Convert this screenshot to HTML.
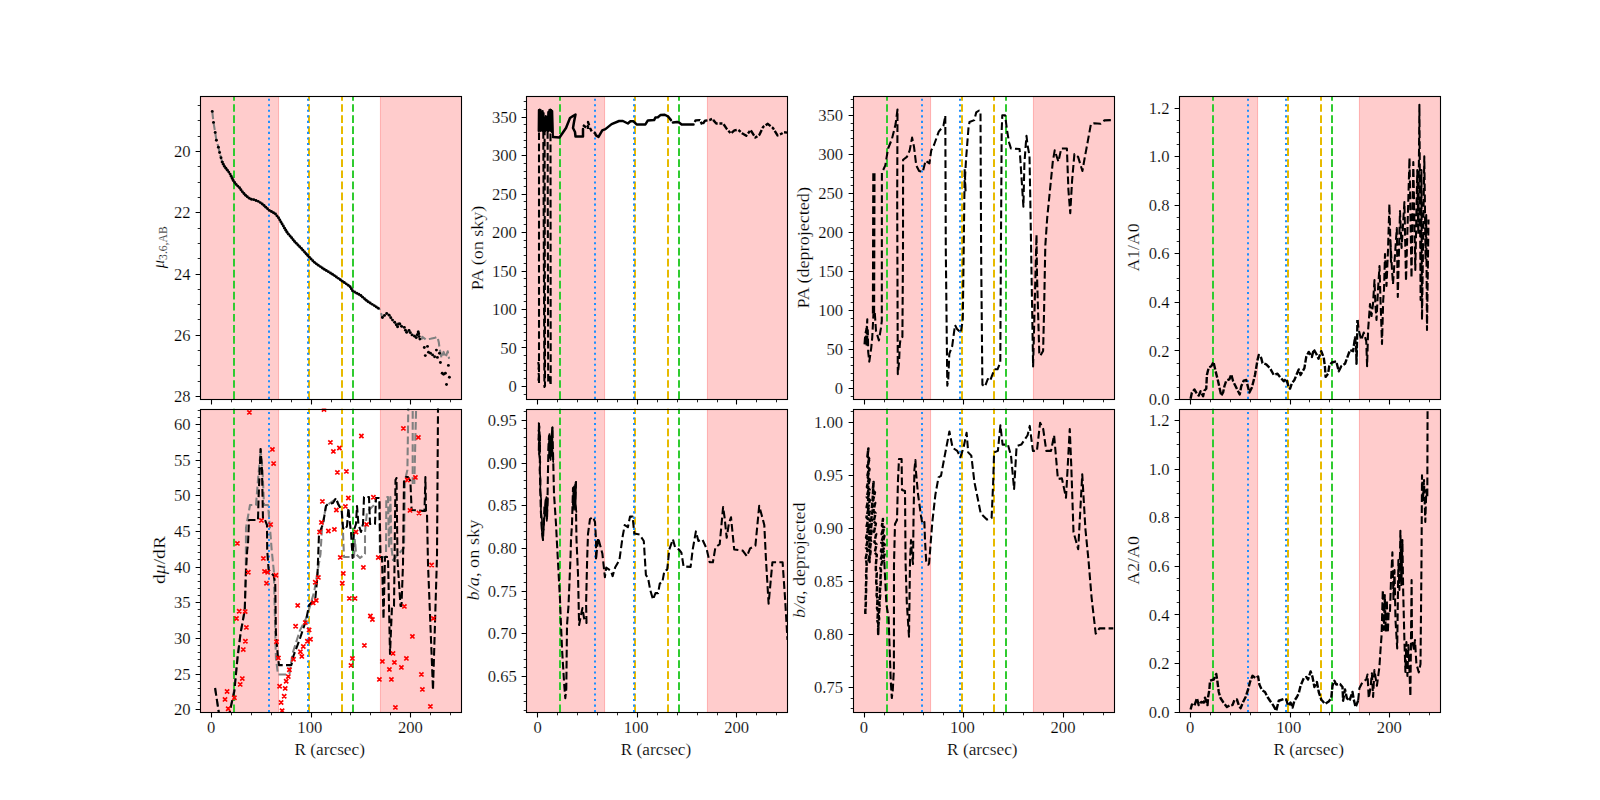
<!DOCTYPE html>
<html><head><meta charset="utf-8"><title>Radial profiles</title>
<style>html,body{margin:0;padding:0;background:#fff}svg{display:block}text{font-family:"Liberation Serif","DejaVu Serif",serif;font-size:16.6px;fill:#000;stroke:#fff;stroke-width:0.18px}</style>
</head><body>
<svg width="1600" height="800" viewBox="0 0 1600 800">
<rect width="1600" height="800" fill="#fff"/>
<defs>
<clipPath id="c00"><rect x="200" y="96" width="261.05" height="303.45"/></clipPath>
<clipPath id="c01"><rect x="200" y="408.55" width="261.05" height="303.45"/></clipPath>
<clipPath id="c10"><rect x="526.31" y="96" width="261.05" height="303.45"/></clipPath>
<clipPath id="c11"><rect x="526.31" y="408.55" width="261.05" height="303.45"/></clipPath>
<clipPath id="c20"><rect x="852.62" y="96" width="261.05" height="303.45"/></clipPath>
<clipPath id="c21"><rect x="852.62" y="408.55" width="261.05" height="303.45"/></clipPath>
<clipPath id="c30"><rect x="1178.94" y="96" width="261.05" height="303.45"/></clipPath>
<clipPath id="c31"><rect x="1178.94" y="408.55" width="261.05" height="303.45"/></clipPath>
</defs>
<rect x="200.5" y="96.5" width="261" height="303" fill="#fff"/>
<rect x="200.5" y="96.5" width="78.6" height="303" fill="#f00" fill-opacity="0.2"/>
<rect x="379.9" y="96.5" width="81.6" height="303" fill="#f00" fill-opacity="0.2"/>
<path d="M278.5,96.5 V399.5 M380.5,96.5 V399.5" stroke="#f00" stroke-opacity="0.2" stroke-width="0.7" fill="none"/>
<g clip-path="url(#c00)">
<path d="M234,398.9 V96" stroke="#30cb30" stroke-width="2.05" stroke-dasharray="7.71 3.33" fill="none"/>
<path d="M353,398.9 V96" stroke="#30cb30" stroke-width="2.05" stroke-dasharray="7.71 3.33" fill="none"/>
<path d="M309,398.9 V96" stroke="#e7ba00" stroke-width="2.05" stroke-dasharray="7.71 3.33" fill="none"/>
<path d="M342,398.9 V96" stroke="#e7ba00" stroke-width="2.05" stroke-dasharray="7.71 3.33" fill="none"/>
<path d="M269,398.9 V96" stroke="#1e90ff" stroke-width="2.05" stroke-dasharray="2.08 3.44" fill="none"/>
<path d="M308,398.9 V96" stroke="#1e90ff" stroke-width="2.05" stroke-dasharray="2.08 3.44" fill="none"/>
<path d="M212.25,111.4 L213.5,122.4 L215.2,132.5 L216.4,140.2 L218.4,147.2 L219.6,152.5 L221,157.7 L222.2,162.1 L224.5,166.5 L228,170.9 L230.6,174.9 L233.2,180.5 L236.75,185.2 L239.4,187.5 L242,191.3 L246.4,196.2 L250.75,199.2 L254.25,199.75 L258.6,201.5 L263,204.5 L269.1,210.25 L275.25,213.75 L278.75,218.1 L282.25,224.25 L287.5,233 L292.75,239.1 L294,241 L301,248 L308,255.9 L315,262.9 L323.75,269 L332.5,274.25 L341.25,280.4 L350,286.5 L352.6,290.9 L360.5,295.25 L367.5,301.4 L374.5,305.75 L379.75,309.25 L382.4,317.5 L386.5,313.4 L389.25,315.2 L392,319.6 L395.4,323 L397.5,327.1 L398.9,322.6 L401.6,326.4 L404.4,327.4 L406.4,332.6 L409.2,330.2 L411.3,334.7 L414,335.4 L416.1,338.1 L418.4,331.3 L419.5,339.2 L422.3,338.4 L422.3,336.8 L425.7,339.5 L430.5,338.8 L434,338.1 L437.4,336.8 L438.8,342.3 L439.5,347.8 L441.5,358.1 L443.6,351.9 L445.7,357.4 L447.7,351.2 L449.1,358.8" stroke="#808080" stroke-width="2.08" stroke-dasharray="7.71 3.33" fill="none" stroke-linejoin="round" />
<g fill="#000"><circle cx="212.25" cy="111.4" r="1.45"/><circle cx="213.5" cy="122.4" r="1.45"/><circle cx="215.2" cy="132.5" r="1.45"/><circle cx="216.4" cy="140.2" r="1.45"/><circle cx="218.4" cy="147.2" r="1.45"/><circle cx="219.6" cy="152.5" r="1.45"/><circle cx="221" cy="157.7" r="1.45"/><circle cx="222.2" cy="162.1" r="1.45"/><circle cx="222.2" cy="162.1" r="1.45"/><circle cx="223.31" cy="164.23" r="1.45"/><circle cx="224.42" cy="166.35" r="1.45"/><circle cx="225.89" cy="168.25" r="1.45"/><circle cx="227.39" cy="170.13" r="1.45"/><circle cx="228.77" cy="172.08" r="1.45"/><circle cx="230.08" cy="174.1" r="1.45"/><circle cx="231.21" cy="176.21" r="1.45"/><circle cx="232.22" cy="178.38" r="1.45"/><circle cx="233.24" cy="180.55" r="1.45"/><circle cx="234.69" cy="182.47" r="1.45"/><circle cx="236.13" cy="184.38" r="1.45"/><circle cx="237.79" cy="186.1" r="1.45"/><circle cx="239.55" cy="187.72" r="1.45"/><circle cx="240.91" cy="189.7" r="1.45"/><circle cx="242.31" cy="191.65" r="1.45"/><circle cx="243.91" cy="193.43" r="1.45"/><circle cx="245.52" cy="195.22" r="1.45"/><circle cx="247.29" cy="196.81" r="1.45"/><circle cx="249.26" cy="198.18" r="1.45"/><circle cx="251.34" cy="199.29" r="1.45"/><circle cx="253.71" cy="199.66" r="1.45"/><circle cx="255.97" cy="200.44" r="1.45"/><circle cx="258.19" cy="201.34" r="1.45"/><circle cx="260.22" cy="202.61" r="1.45"/><circle cx="262.2" cy="203.96" r="1.45"/><circle cx="264.05" cy="205.49" r="1.45"/><circle cx="265.79" cy="207.13" r="1.45"/><circle cx="267.54" cy="208.78" r="1.45"/><circle cx="269.32" cy="210.38" r="1.45"/><circle cx="271.41" cy="211.56" r="1.45"/><circle cx="273.49" cy="212.75" r="1.45"/><circle cx="275.49" cy="214.05" r="1.45"/><circle cx="276.99" cy="215.91" r="1.45"/><circle cx="278.5" cy="217.78" r="1.45"/><circle cx="279.74" cy="219.83" r="1.45"/><circle cx="280.92" cy="221.92" r="1.45"/><circle cx="282.11" cy="224.01" r="1.45"/><circle cx="283.34" cy="226.07" r="1.45"/><circle cx="284.58" cy="228.13" r="1.45"/><circle cx="285.81" cy="230.18" r="1.45"/><circle cx="287.04" cy="232.24" r="1.45"/><circle cx="288.49" cy="234.15" r="1.45"/><circle cx="290.05" cy="235.97" r="1.45"/><circle cx="291.62" cy="237.79" r="1.45"/><circle cx="293.12" cy="239.66" r="1.45"/><circle cx="294.56" cy="241.56" r="1.45"/><circle cx="296.26" cy="243.26" r="1.45"/><circle cx="297.95" cy="244.95" r="1.45"/><circle cx="299.65" cy="246.65" r="1.45"/><circle cx="301.33" cy="248.37" r="1.45"/><circle cx="302.92" cy="250.17" r="1.45"/><circle cx="304.51" cy="251.96" r="1.45"/><circle cx="306.1" cy="253.76" r="1.45"/><circle cx="307.69" cy="255.55" r="1.45"/><circle cx="309.37" cy="257.27" r="1.45"/><circle cx="311.07" cy="258.97" r="1.45"/><circle cx="312.76" cy="260.66" r="1.45"/><circle cx="314.46" cy="262.36" r="1.45"/><circle cx="316.34" cy="263.84" r="1.45"/><circle cx="318.31" cy="265.21" r="1.45"/><circle cx="320.28" cy="266.58" r="1.45"/><circle cx="322.25" cy="267.95" r="1.45"/><circle cx="324.24" cy="269.29" r="1.45"/><circle cx="326.3" cy="270.53" r="1.45"/><circle cx="328.36" cy="271.76" r="1.45"/><circle cx="330.41" cy="273" r="1.45"/><circle cx="332.47" cy="274.23" r="1.45"/><circle cx="334.44" cy="275.61" r="1.45"/><circle cx="336.4" cy="276.99" r="1.45"/><circle cx="338.36" cy="278.37" r="1.45"/><circle cx="340.33" cy="279.75" r="1.45"/><circle cx="342.29" cy="281.13" r="1.45"/><circle cx="344.26" cy="282.5" r="1.45"/><circle cx="346.23" cy="283.87" r="1.45"/><circle cx="348.2" cy="285.25" r="1.45"/><circle cx="350.11" cy="286.68" r="1.45"/><circle cx="351.33" cy="288.74" r="1.45"/><circle cx="352.55" cy="290.81" r="1.45"/><circle cx="354.61" cy="292.01" r="1.45"/><circle cx="356.71" cy="293.16" r="1.45"/><circle cx="358.82" cy="294.32" r="1.45"/><circle cx="360.86" cy="295.56" r="1.45"/><circle cx="362.66" cy="297.15" r="1.45"/><circle cx="364.46" cy="298.73" r="1.45"/><circle cx="366.27" cy="300.32" r="1.45"/><circle cx="368.14" cy="301.8" r="1.45"/><circle cx="370.18" cy="303.07" r="1.45"/><circle cx="372.22" cy="304.33" r="1.45"/><circle cx="374.26" cy="305.6" r="1.45"/><circle cx="376.26" cy="306.92" r="1.45"/><circle cx="378.26" cy="308.26" r="1.45"/><circle cx="382.4" cy="317.5" r="1.45"/><circle cx="384.52" cy="315.38" r="1.45"/><circle cx="386.67" cy="313.51" r="1.45"/><circle cx="389.18" cy="315.15" r="1.45"/><circle cx="390.79" cy="317.67" r="1.45"/><circle cx="392.51" cy="320.11" r="1.45"/><circle cx="394.63" cy="322.23" r="1.45"/><circle cx="396.27" cy="324.71" r="1.45"/><circle cx="397.59" cy="326.8" r="1.45"/><circle cx="398.48" cy="323.94" r="1.45"/><circle cx="399.83" cy="323.9" r="1.45"/><circle cx="401.56" cy="326.35" r="1.45"/><circle cx="404.37" cy="327.39" r="1.45"/><circle cx="405.46" cy="330.17" r="1.45"/><circle cx="406.7" cy="332.34" r="1.45"/><circle cx="408.98" cy="330.39" r="1.45"/><circle cx="410.34" cy="332.65" r="1.45"/><circle cx="412.02" cy="334.89" r="1.45"/><circle cx="414.58" cy="336.15" r="1.45"/><circle cx="416.27" cy="337.6" r="1.45"/><circle cx="417.23" cy="334.76" r="1.45"/><circle cx="418.19" cy="331.92" r="1.45"/><circle cx="418.72" cy="333.63" r="1.45"/><circle cx="419.14" cy="336.6" r="1.45"/><circle cx="419.86" cy="339.1" r="1.45"/><circle cx="424.3" cy="347.5" r="1.45"/><circle cx="427.5" cy="346.4" r="1.45"/><circle cx="425.3" cy="355.6" r="1.45"/><circle cx="428.5" cy="352.3" r="1.45"/><circle cx="430.5" cy="353.3" r="1.45"/><circle cx="432.6" cy="354.9" r="1.45"/><circle cx="434.6" cy="356.7" r="1.45"/><circle cx="437.4" cy="357.4" r="1.45"/><circle cx="436.4" cy="350.1" r="1.45"/><circle cx="439.5" cy="353.3" r="1.45"/><circle cx="440.4" cy="362.5" r="1.45"/><circle cx="448.4" cy="365.4" r="1.45"/><circle cx="442.2" cy="373.2" r="1.45"/><circle cx="443.6" cy="374.2" r="1.45"/><circle cx="445.4" cy="373.2" r="1.45"/><circle cx="449.4" cy="377.3" r="1.45"/><circle cx="446.5" cy="384.5" r="1.45"/></g>
</g>
<path d="M211.5,399.5 v4.9 M311.5,399.5 v4.9 M410.5,399.5 v4.9" stroke="#000" stroke-width="1.1" fill="none"/>
<path d="M231.5,399.5 v2.8 M251.5,399.5 v2.8 M271.5,399.5 v2.8 M291.5,399.5 v2.8 M331.5,399.5 v2.8 M350.5,399.5 v2.8 M370.5,399.5 v2.8 M390.5,399.5 v2.8 M430.5,399.5 v2.8 M450.5,399.5 v2.8" stroke="#000" stroke-width="0.85" fill="none"/>
<path d="M200.5,151.5 h-4.9 M200.5,212.5 h-4.9 M200.5,274.5 h-4.9 M200.5,335.5 h-4.9 M200.5,396.5 h-4.9" stroke="#000" stroke-width="1.1" fill="none"/>
<path d="M200.5,105.5 h-2.8 M200.5,120.5 h-2.8 M200.5,136.5 h-2.8 M200.5,151.5 h-2.8 M200.5,166.5 h-2.8 M200.5,182.5 h-2.8 M200.5,197.5 h-2.8 M200.5,212.5 h-2.8 M200.5,228.5 h-2.8 M200.5,243.5 h-2.8 M200.5,258.5 h-2.8 M200.5,274.5 h-2.8 M200.5,289.5 h-2.8 M200.5,304.5 h-2.8 M200.5,319.5 h-2.8 M200.5,335.5 h-2.8 M200.5,350.5 h-2.8 M200.5,365.5 h-2.8 M200.5,381.5 h-2.8 M200.5,396.5 h-2.8" stroke="#000" stroke-width="0.85" fill="none"/>
<rect x="200.5" y="96.5" width="261" height="303" fill="none" stroke="#000" stroke-width="1.1"/>
<text x="190.5" y="157" text-anchor="end">20</text>
<text x="190.5" y="218.3" text-anchor="end">22</text>
<text x="190.5" y="279.6" text-anchor="end">24</text>
<text x="190.5" y="340.9" text-anchor="end">26</text>
<text x="190.5" y="402.2" text-anchor="end">28</text>
<text x="211.25" y="420.45" text-anchor="middle">0</text>
<text x="309.8" y="420.45" text-anchor="middle">100</text>
<text x="410.35" y="420.45" text-anchor="middle">200</text>
<text transform="translate(164,247.3) rotate(-90)" text-anchor="middle"><tspan font-style="italic">μ</tspan><tspan font-size="11.6" dy="3">3.6,AB</tspan></text>
<rect x="526.5" y="96.5" width="261" height="303" fill="#fff"/>
<rect x="526.5" y="96.5" width="78.6" height="303" fill="#f00" fill-opacity="0.2"/>
<rect x="706.9" y="96.5" width="80.6" height="303" fill="#f00" fill-opacity="0.2"/>
<path d="M604.5,96.5 V399.5 M707.5,96.5 V399.5" stroke="#f00" stroke-opacity="0.2" stroke-width="0.7" fill="none"/>
<g clip-path="url(#c10)">
<path d="M560,398.9 V96" stroke="#30cb30" stroke-width="2.05" stroke-dasharray="7.71 3.33" fill="none"/>
<path d="M679,398.9 V96" stroke="#30cb30" stroke-width="2.05" stroke-dasharray="7.71 3.33" fill="none"/>
<path d="M635,398.9 V96" stroke="#e7ba00" stroke-width="2.05" stroke-dasharray="7.71 3.33" fill="none"/>
<path d="M668,398.9 V96" stroke="#e7ba00" stroke-width="2.05" stroke-dasharray="7.71 3.33" fill="none"/>
<path d="M595,398.9 V96" stroke="#1e90ff" stroke-width="2.05" stroke-dasharray="2.08 3.44" fill="none"/>
<path d="M634,398.9 V96" stroke="#1e90ff" stroke-width="2.05" stroke-dasharray="2.08 3.44" fill="none"/>
<path d="M538.2,362 L538.9,366 L538.3,371 L539,376 L538.5,380 L538.9,383.5" stroke="#000" stroke-width="2.08" stroke-dasharray="7.71 3.33" fill="none" stroke-linejoin="round" />
<path d="M539,383 L539,131" stroke="#000" stroke-width="2.08" stroke-dasharray="7.71 3.33" fill="none" stroke-linejoin="round" />
<path d="M543.3,131 L544.4,387 L545,386 L544.6,131" stroke="#000" stroke-width="2.08" stroke-dasharray="7.71 3.33" fill="none" stroke-linejoin="round" />
<path d="M547.6,131 L548.2,385" stroke="#000" stroke-width="2.08" stroke-dasharray="7.71 3.33" fill="none" stroke-linejoin="round" />
<path d="M549.4,376 L550.7,385.5 L550.5,131" stroke="#000" stroke-width="2.08" stroke-dasharray="7.71 3.33" fill="none" stroke-linejoin="round" />
<path d="M538.6,131 L538.8,110 L539.3,130 L539.7,109.5 L540.2,131 L540.7,110 L541.2,130 L541.7,112 L542.2,131 L542.7,111 L543.2,129 L543.6,113 L544,131 L544.6,118 L545.2,131 L545.8,116 L546.4,130 L547,117 L547.6,131 L548.2,112 L548.8,131 L549.3,110 L549.8,130 L550.3,109.5 L550.8,131 L551.3,110 L551.8,132 L552.3,111 L552.8,128 L553,137" stroke="#000" stroke-width="2.0" fill="none" stroke-linejoin="round" stroke-linecap="round"/>
<path d="M553,137 L559.5,137.5 L566,128 L570,118 L573,116 L575.5,114.5 L574,122 L573,128 L575,132 L575.5,136.5 L583,136.5 L583,129" stroke="#000" stroke-width="2.5" fill="none" stroke-linejoin="round" stroke-linecap="round"/>
<path d="M583,125 L588,129 L588,122 L590,128 L592,132 L595,133" stroke="#000" stroke-width="2.4" stroke-dasharray="4 2.5" fill="none" stroke-linejoin="round" />
<path d="M595,133 L596,135.4 L598.5,136.9 L602.25,130.4 L605.4,129.1 L611.6,124.1 L619.1,121 L622.9,121 L627.9,123.5 L630.4,121.3 L633.5,121.3 L636.6,124.4 L645.4,124.4 L647.9,120.4 L654.1,120.1 L655.4,117.6 L657.9,117.25 L660.4,115.1 L664.75,114.75 L667.9,116.3 L671,120.1" stroke="#000" stroke-width="2.5" fill="none" stroke-linejoin="round" stroke-linecap="round"/>
<path d="M672.9,122.6 L677.25,121.9 L679.1,122.6 L681.6,124.4 L693.5,124.4" stroke="#000" stroke-width="2.5" fill="none" stroke-linejoin="round" stroke-linecap="round"/>
<path d="M694.8,122 L695.6,120.4 L700,120.1 L702.2,124.75 L705,120.7 L709.4,120.1 L712.2,118.8 L716.25,123.5 L723.1,123.5 L726.9,129.1 L730.9,133.5 L734.4,130.4 L738.1,129.75 L742.5,133.5 L746.25,135.7 L750.6,130.1 L755.3,137.6 L759.4,134.75 L763.1,126.9 L767.8,123.8 L773.1,128.2 L777.5,135.4 L781.9,133.5 L783.75,132.25 L787.4,132.6" stroke="#000" stroke-width="2.4" stroke-dasharray="6.2 1.8 3 1.6" fill="none" stroke-linejoin="round" />
</g>
<path d="M537.5,399.5 v4.9 M637.5,399.5 v4.9 M736.5,399.5 v4.9" stroke="#000" stroke-width="1.1" fill="none"/>
<path d="M557.5,399.5 v2.8 M577.5,399.5 v2.8 M597.5,399.5 v2.8 M617.5,399.5 v2.8 M657.5,399.5 v2.8 M677.5,399.5 v2.8 M697.5,399.5 v2.8 M717.5,399.5 v2.8 M756.5,399.5 v2.8 M776.5,399.5 v2.8" stroke="#000" stroke-width="0.85" fill="none"/>
<path d="M526.5,386.5 h-4.9 M526.5,347.5 h-4.9 M526.5,309.5 h-4.9 M526.5,271.5 h-4.9 M526.5,232.5 h-4.9 M526.5,194.5 h-4.9 M526.5,155.5 h-4.9 M526.5,117.5 h-4.9" stroke="#000" stroke-width="1.1" fill="none"/>
<path d="M526.5,394.5 h-2.8 M526.5,386.5 h-2.8 M526.5,378.5 h-2.8 M526.5,370.5 h-2.8 M526.5,363.5 h-2.8 M526.5,355.5 h-2.8 M526.5,347.5 h-2.8 M526.5,340.5 h-2.8 M526.5,332.5 h-2.8 M526.5,324.5 h-2.8 M526.5,317.5 h-2.8 M526.5,309.5 h-2.8 M526.5,301.5 h-2.8 M526.5,294.5 h-2.8 M526.5,286.5 h-2.8 M526.5,278.5 h-2.8 M526.5,271.5 h-2.8 M526.5,263.5 h-2.8 M526.5,255.5 h-2.8 M526.5,247.5 h-2.8 M526.5,240.5 h-2.8 M526.5,232.5 h-2.8 M526.5,224.5 h-2.8 M526.5,217.5 h-2.8 M526.5,209.5 h-2.8 M526.5,201.5 h-2.8 M526.5,194.5 h-2.8 M526.5,186.5 h-2.8 M526.5,178.5 h-2.8 M526.5,171.5 h-2.8 M526.5,163.5 h-2.8 M526.5,155.5 h-2.8 M526.5,147.5 h-2.8 M526.5,140.5 h-2.8 M526.5,132.5 h-2.8 M526.5,124.5 h-2.8 M526.5,117.5 h-2.8 M526.5,109.5 h-2.8 M526.5,101.5 h-2.8" stroke="#000" stroke-width="0.85" fill="none"/>
<rect x="526.5" y="96.5" width="261" height="303" fill="none" stroke="#000" stroke-width="1.1"/>
<text x="516.81" y="391.95" text-anchor="end">0</text>
<text x="516.81" y="353.5" text-anchor="end">50</text>
<text x="516.81" y="315.05" text-anchor="end">100</text>
<text x="516.81" y="276.6" text-anchor="end">150</text>
<text x="516.81" y="238.15" text-anchor="end">200</text>
<text x="516.81" y="199.7" text-anchor="end">250</text>
<text x="516.81" y="161.25" text-anchor="end">300</text>
<text x="516.81" y="122.8" text-anchor="end">350</text>
<text x="537.56" y="420.45" text-anchor="middle">0</text>
<text x="636.11" y="420.45" text-anchor="middle">100</text>
<text x="736.66" y="420.45" text-anchor="middle">200</text>
<text transform="translate(483,248) rotate(-90)" text-anchor="middle" textLength="84.5" lengthAdjust="spacingAndGlyphs">PA (on sky)</text>
<rect x="853.5" y="96.5" width="261" height="303" fill="#fff"/>
<rect x="853.5" y="96.5" width="77.6" height="303" fill="#f00" fill-opacity="0.2"/>
<rect x="1032.9" y="96.5" width="81.6" height="303" fill="#f00" fill-opacity="0.2"/>
<path d="M930.5,96.5 V399.5 M1033.5,96.5 V399.5" stroke="#f00" stroke-opacity="0.2" stroke-width="0.7" fill="none"/>
<g clip-path="url(#c20)">
<path d="M887,398.9 V96" stroke="#30cb30" stroke-width="2.05" stroke-dasharray="7.71 3.33" fill="none"/>
<path d="M1006,398.9 V96" stroke="#30cb30" stroke-width="2.05" stroke-dasharray="7.71 3.33" fill="none"/>
<path d="M962,398.9 V96" stroke="#e7ba00" stroke-width="2.05" stroke-dasharray="7.71 3.33" fill="none"/>
<path d="M994,398.9 V96" stroke="#e7ba00" stroke-width="2.05" stroke-dasharray="7.71 3.33" fill="none"/>
<path d="M922,398.9 V96" stroke="#1e90ff" stroke-width="2.05" stroke-dasharray="2.08 3.44" fill="none"/>
<path d="M960,398.9 V96" stroke="#1e90ff" stroke-width="2.05" stroke-dasharray="2.08 3.44" fill="none"/>
<path d="M864.5,344.3 L865.2,335 L866.4,328.9 L866,340 L867.3,319.2 L866.6,346.2 L867.8,330 L868.2,352 L869.3,361.6 L870.2,355 L871.2,348.1 L872.2,338 L873.5,313.4" stroke="#000" stroke-width="2.08" stroke-dasharray="7.71 3.33" fill="none" stroke-linejoin="round" />
<path d="M873.5,313.4 L873.9,172.9" stroke="#000" stroke-width="3.3" stroke-dasharray="7.71 3.33" fill="none" stroke-linejoin="round" />
<path d="M874.8,313 L876,330.8 L878.9,340.4 L880.8,328.9 L881.8,321.1 L881.9,172.9 L885.3,165.4 L888.1,148.5 L891.9,139.1 L895.6,124.1 L897.5,109.5 L897.2,200 L897.8,374.1 L899.1,361.6 L899.7,346.2 L900.5,338.5 L902.4,336.9 L903,250 L903.1,159.75 L906.9,156.9 L909.7,150.4 L912.1,137.6 L914,146.6 L916.25,165.4 L919.1,171 L922.8,171.9 L925.6,160.7 L929.4,163.5 L931.25,150.4 L934.1,144.75 L938.75,131.6 L943.4,126 L945.3,115.7 L945.8,250 L947.3,385.7 L948.3,379 L949.3,353.9 L952.2,346.2 L955,325 L957,328.9 L960.8,332.7 L962.8,319.2 L963.7,250 L964.7,169.2 L965.6,192.3 L964.9,180 L966,160 L968.5,127.8 L969.5,122 L974.3,120.1 L976.2,112.4 L979.1,110.5 L980.5,113.3 L981.1,250 L982.4,384.7 L984.9,386.7 L987.8,379 L990,381 L992.6,374.1 L994.5,369.3 L997.5,369.3 L1000.3,362.6 L1000.9,250 L1001.7,130 L1002.3,115.3 L1005.1,115.3 L1007.1,130.7 L1009,142.2 L1010.9,148.4 L1019.6,149 L1020.6,163.4 L1022.1,186.6 L1023.4,206.8 L1024.4,163.4 L1025.8,144.2 L1026.5,135.8 L1027.5,144.75 L1029.5,156 L1030.3,200 L1033.1,366.4 L1036.5,234.75 L1037,275 L1039.3,353.9 L1040.2,355.8 L1043.1,351 L1044.1,309.6 L1045.3,246 L1047.2,217.9 L1050,189.75 L1052.8,161.6 L1054.7,150.4 L1058.4,161.6 L1061.25,148.5 L1066.9,148.5 L1068.4,189.75 L1070.25,213.2 L1072.1,180.4 L1074.4,154.1 L1078.1,156.9 L1082.4,171 L1084.7,157.9 L1087.5,142.9 L1090.9,124.1 L1094.1,123.2 L1100.6,123.75 L1104.4,120.4 L1113.75,120" stroke="#000" stroke-width="2.08" stroke-dasharray="7.71 3.33" fill="none" stroke-linejoin="round" />
</g>
<path d="M864.5,399.5 v4.9 M963.5,399.5 v4.9 M1063.5,399.5 v4.9" stroke="#000" stroke-width="1.1" fill="none"/>
<path d="M884.5,399.5 v2.8 M903.5,399.5 v2.8 M923.5,399.5 v2.8 M943.5,399.5 v2.8 M983.5,399.5 v2.8 M1003.5,399.5 v2.8 M1023.5,399.5 v2.8 M1043.5,399.5 v2.8 M1083.5,399.5 v2.8 M1103.5,399.5 v2.8" stroke="#000" stroke-width="0.85" fill="none"/>
<path d="M853.5,388.5 h-4.9 M853.5,349.5 h-4.9 M853.5,310.5 h-4.9 M853.5,271.5 h-4.9 M853.5,232.5 h-4.9 M853.5,193.5 h-4.9 M853.5,154.5 h-4.9 M853.5,115.5 h-4.9" stroke="#000" stroke-width="1.1" fill="none"/>
<path d="M853.5,396.5 h-2.8 M853.5,388.5 h-2.8 M853.5,380.5 h-2.8 M853.5,373.5 h-2.8 M853.5,365.5 h-2.8 M853.5,357.5 h-2.8 M853.5,349.5 h-2.8 M853.5,341.5 h-2.8 M853.5,334.5 h-2.8 M853.5,326.5 h-2.8 M853.5,318.5 h-2.8 M853.5,310.5 h-2.8 M853.5,302.5 h-2.8 M853.5,295.5 h-2.8 M853.5,287.5 h-2.8 M853.5,279.5 h-2.8 M853.5,271.5 h-2.8 M853.5,263.5 h-2.8 M853.5,255.5 h-2.8 M853.5,248.5 h-2.8 M853.5,240.5 h-2.8 M853.5,232.5 h-2.8 M853.5,224.5 h-2.8 M853.5,216.5 h-2.8 M853.5,209.5 h-2.8 M853.5,201.5 h-2.8 M853.5,193.5 h-2.8 M853.5,185.5 h-2.8 M853.5,177.5 h-2.8 M853.5,170.5 h-2.8 M853.5,162.5 h-2.8 M853.5,154.5 h-2.8 M853.5,146.5 h-2.8 M853.5,138.5 h-2.8 M853.5,130.5 h-2.8 M853.5,123.5 h-2.8 M853.5,115.5 h-2.8 M853.5,107.5 h-2.8 M853.5,99.5 h-2.8" stroke="#000" stroke-width="0.85" fill="none"/>
<rect x="853.5" y="96.5" width="261" height="303" fill="none" stroke="#000" stroke-width="1.1"/>
<text x="843.12" y="394.4" text-anchor="end">0</text>
<text x="843.12" y="355.34" text-anchor="end">50</text>
<text x="843.12" y="316.27" text-anchor="end">100</text>
<text x="843.12" y="277.21" text-anchor="end">150</text>
<text x="843.12" y="238.14" text-anchor="end">200</text>
<text x="843.12" y="199.08" text-anchor="end">250</text>
<text x="843.12" y="160.01" text-anchor="end">300</text>
<text x="843.12" y="120.95" text-anchor="end">350</text>
<text x="863.88" y="420.45" text-anchor="middle">0</text>
<text x="962.42" y="420.45" text-anchor="middle">100</text>
<text x="1062.98" y="420.45" text-anchor="middle">200</text>
<text transform="translate(808.8,247.8) rotate(-90)" text-anchor="middle" textLength="121.5" lengthAdjust="spacingAndGlyphs">PA (deprojected)</text>
<rect x="1179.5" y="96.5" width="261" height="303" fill="#fff"/>
<rect x="1179.5" y="96.5" width="78.6" height="303" fill="#f00" fill-opacity="0.2"/>
<rect x="1358.9" y="96.5" width="81.6" height="303" fill="#f00" fill-opacity="0.2"/>
<path d="M1257.5,96.5 V399.5 M1359.5,96.5 V399.5" stroke="#f00" stroke-opacity="0.2" stroke-width="0.7" fill="none"/>
<g clip-path="url(#c30)">
<path d="M1213,398.9 V96" stroke="#30cb30" stroke-width="2.05" stroke-dasharray="7.71 3.33" fill="none"/>
<path d="M1332,398.9 V96" stroke="#30cb30" stroke-width="2.05" stroke-dasharray="7.71 3.33" fill="none"/>
<path d="M1288,398.9 V96" stroke="#e7ba00" stroke-width="2.05" stroke-dasharray="7.71 3.33" fill="none"/>
<path d="M1321,398.9 V96" stroke="#e7ba00" stroke-width="2.05" stroke-dasharray="7.71 3.33" fill="none"/>
<path d="M1248,398.9 V96" stroke="#1e90ff" stroke-width="2.05" stroke-dasharray="2.08 3.44" fill="none"/>
<path d="M1286,398.9 V96" stroke="#1e90ff" stroke-width="2.05" stroke-dasharray="2.08 3.44" fill="none"/>
<path d="M1190.6,398.75 L1191.9,392.5 L1194.4,389.4 L1196.9,393.75 L1198.75,395.6 L1200.6,391.25 L1203.1,396.25 L1204.4,390.6 L1206.25,388.75 L1206.9,375 L1208.75,367.5 L1211.25,366.25 L1213.5,361.9 L1215.6,371.25 L1218.1,381.25 L1220,390 L1221.25,395.6 L1223.1,392.5 L1224.4,386.25 L1226.25,380.6 L1229.4,379.4 L1231.25,374.4 L1233.1,381.25 L1235.6,386.25 L1238.1,391.25 L1239.75,394.4 L1241.25,386.25 L1243.75,380.6 L1246.25,380 L1248.1,387.5 L1249.4,392.5 L1251.9,387.5 L1255,375 L1257.5,360 L1258.75,355 L1261.25,358.1 L1262.5,363.1 L1266.25,364.4 L1270,368.1 L1273.75,375 L1277.5,373.75 L1280,376.9 L1283.75,381.25 L1286.25,378.75 L1288.75,387.5 L1290,388.75 L1291.9,383.1 L1294.4,380 L1296.9,373.75 L1298.75,369.4 L1300.6,375 L1304.4,368.1 L1306.25,356.9 L1308.75,351.9 L1311.9,356.9 L1313.75,349.4 L1316.25,353.75 L1318.5,358.75 L1321.25,351.25 L1323.75,357.5 L1325,367.5 L1325.6,376.9 L1328.1,373.75 L1329.4,365 L1331.9,362.5 L1336.25,361.25 L1338.75,371.25 L1341.25,366.25 L1345,363.75 L1347.5,356.9 L1350,350 L1353.1,351.25 L1355,337.5 L1356.25,348.75 L1356.5,363.75 L1357.5,320" stroke="#000" stroke-width="2.4" stroke-dasharray="6.5 1.9" fill="none" stroke-linejoin="round" />
<path d="M1357.5,320 L1358.75,330 L1361.25,340 L1363.75,332.5 L1366.25,341.25 L1367.1,366.25 L1368.1,330 L1370,304 L1371.5,316 L1373,304 L1374.5,280 L1375.4,305 L1376.5,320 L1378,290 L1379.5,266 L1380.5,300 L1382,344 L1383.2,300 L1384,290 L1385,254 L1386.5,286 L1388,250 L1389.4,204 L1390.2,235 L1391,262 L1390.4,240 L1392,270 L1393,284 L1396.8,228 L1397.8,297 L1400,211 L1401.6,248 L1404.4,202 L1406,281 L1409.5,158 L1411.5,278 L1413.3,162 L1415.3,270 L1417.3,170 L1418.3,234 L1419.4,104.75 L1420.6,300 L1421.4,170 L1422,320 L1424.3,156.4 L1425.6,260 L1426.2,215 L1427,330 L1428.5,219.5" stroke="#000" stroke-width="2.08" stroke-dasharray="7.71 3.33" fill="none" stroke-linejoin="round" />
</g>
<path d="M1190.5,399.5 v4.9 M1290.5,399.5 v4.9 M1389.5,399.5 v4.9" stroke="#000" stroke-width="1.1" fill="none"/>
<path d="M1210.5,399.5 v2.8 M1230.5,399.5 v2.8 M1250.5,399.5 v2.8 M1270.5,399.5 v2.8 M1309.5,399.5 v2.8 M1329.5,399.5 v2.8 M1349.5,399.5 v2.8 M1369.5,399.5 v2.8 M1409.5,399.5 v2.8 M1429.5,399.5 v2.8" stroke="#000" stroke-width="0.85" fill="none"/>
<path d="M1179.5,399.5 h-4.9 M1179.5,350.5 h-4.9 M1179.5,302.5 h-4.9 M1179.5,253.5 h-4.9 M1179.5,205.5 h-4.9 M1179.5,156.5 h-4.9 M1179.5,108.5 h-4.9" stroke="#000" stroke-width="1.1" fill="none"/>
<path d="M1179.5,399.5 h-2.8 M1179.5,387.5 h-2.8 M1179.5,375.5 h-2.8 M1179.5,363.5 h-2.8 M1179.5,350.5 h-2.8 M1179.5,338.5 h-2.8 M1179.5,326.5 h-2.8 M1179.5,314.5 h-2.8 M1179.5,302.5 h-2.8 M1179.5,290.5 h-2.8 M1179.5,278.5 h-2.8 M1179.5,265.5 h-2.8 M1179.5,253.5 h-2.8 M1179.5,241.5 h-2.8 M1179.5,229.5 h-2.8 M1179.5,217.5 h-2.8 M1179.5,205.5 h-2.8 M1179.5,193.5 h-2.8 M1179.5,180.5 h-2.8 M1179.5,168.5 h-2.8 M1179.5,156.5 h-2.8 M1179.5,144.5 h-2.8 M1179.5,132.5 h-2.8 M1179.5,120.5 h-2.8 M1179.5,108.5 h-2.8" stroke="#000" stroke-width="0.85" fill="none"/>
<rect x="1179.5" y="96.5" width="261" height="303" fill="none" stroke="#000" stroke-width="1.1"/>
<text x="1169.44" y="405.05" text-anchor="end">0.0</text>
<text x="1169.44" y="356.5" text-anchor="end">0.2</text>
<text x="1169.44" y="307.94" text-anchor="end">0.4</text>
<text x="1169.44" y="259.39" text-anchor="end">0.6</text>
<text x="1169.44" y="210.84" text-anchor="end">0.8</text>
<text x="1169.44" y="162.29" text-anchor="end">1.0</text>
<text x="1169.44" y="113.74" text-anchor="end">1.2</text>
<text x="1190.19" y="420.45" text-anchor="middle">0</text>
<text x="1288.74" y="420.45" text-anchor="middle">100</text>
<text x="1389.29" y="420.45" text-anchor="middle">200</text>
<text transform="translate(1138.8,247.5) rotate(-90)" text-anchor="middle" textLength="48" lengthAdjust="spacingAndGlyphs">A1/A0</text>
<rect x="200.5" y="409.5" width="261" height="303" fill="#fff"/>
<rect x="200.5" y="409.5" width="78.6" height="303" fill="#f00" fill-opacity="0.2"/>
<rect x="379.9" y="409.5" width="81.6" height="303" fill="#f00" fill-opacity="0.2"/>
<path d="M278.5,409.5 V712.5 M380.5,409.5 V712.5" stroke="#f00" stroke-opacity="0.2" stroke-width="0.7" fill="none"/>
<g clip-path="url(#c01)">
<path d="M234,712.15 V408.55" stroke="#30cb30" stroke-width="2.05" stroke-dasharray="7.71 3.33" fill="none"/>
<path d="M353,712.15 V408.55" stroke="#30cb30" stroke-width="2.05" stroke-dasharray="7.71 3.33" fill="none"/>
<path d="M309,712.15 V408.55" stroke="#e7ba00" stroke-width="2.05" stroke-dasharray="7.71 3.33" fill="none"/>
<path d="M342,712.15 V408.55" stroke="#e7ba00" stroke-width="2.05" stroke-dasharray="7.71 3.33" fill="none"/>
<path d="M269,712.15 V408.55" stroke="#1e90ff" stroke-width="2.05" stroke-dasharray="2.08 3.44" fill="none"/>
<path d="M308,712.15 V408.55" stroke="#1e90ff" stroke-width="2.05" stroke-dasharray="2.08 3.44" fill="none"/>
<path d="M215,688 L218.4,709.75 L220,720 L228,722 L230,710 L234,691 L237.5,658 L240.6,633 L244.75,610 L245.8,575 L246,528 L250,505 L256,505 L258,480 L260,458 L260.6,449 L262.5,470 L264,505 L268,505 L270,528 L271.7,550 L273.8,570.75 L275.9,657.9 L278,674.5 L289.4,674.5 L292.5,653.7 L299.75,630.9 L307,616.4 L314.25,591.5 L320.5,554 L322,528 L326,506 L330,503 L336,499 L339,505 L342,512 L343,532 L344,557 L354,557 L355,540 L356,554 L360,558 L365,554 L365,532 L367,512 L375,504 L376,498 L379,498 L380,557 L386,557 L386.3,497 L388,497 L389,548 L390.4,497 L391.5,548 L393,560 L404,548 L405,480 L407.4,470 L408.4,400" stroke="#808080" stroke-width="2.08" stroke-dasharray="7.71 3.33" fill="none" stroke-linejoin="round" />
<path d="M412.7,400 L412.7,484" stroke="#808080" stroke-width="2.08" stroke-dasharray="7.71 3.33" fill="none" stroke-linejoin="round" />
<path d="M416.3,400 L414.3,484" stroke="#808080" stroke-width="2.08" stroke-dasharray="7.71 3.33" fill="none" stroke-linejoin="round" />
<path d="M215.1,688 L218.4,709.75 L220,720 L228,722 L230.2,709.75 L234.4,691 L237.5,657.9 L240.6,633 L244.75,610.2 L245.8,574.9 L247.2,550 L248,544 L249,520 L258,520 L258.5,500 L260.6,449 L262,470 L263,520 L265,520 L267,525 L267.2,550 L268.6,569.7 L273.8,575.9 L275.25,583.2 L275.9,633 L278,657.9 L279,665.1 L291.4,665.1 L293.5,655.8 L299.75,639.2 L306,620.5 L309.1,605 L315.3,598.75 L317.4,577 L319,534 L323,524 L326,506 L328,504 L333,503 L336,498 L338,504 L341.6,510 L343,528 L345,529.6 L347,526 L348.4,508 L350,524 L351,532 L352.6,558 L354,530 L356,524 L357,506 L358.4,524 L361,532 L363,524 L364,497 L369,497 L370,524 L375,524 L376,498 L379.5,498 L380.5,557 L382,557 L383.5,619 L385,557 L388,557 L390,654 L392,606 L394,606 L395.5,480 L396.5,478 L397.5,560 L400.5,606 L401.5,606 L403,564 L404,480 L406,477 L408,477 L410.4,481 L411.6,510 L424.5,511 L425.4,477 L426,511 L427,513 L428,564 L433,690 L437,556 L438,410 L438,400" stroke="#000" stroke-width="2.08" stroke-dasharray="7.71 3.33" fill="none" stroke-linejoin="round" />
<path d="M247.3,410.3 l4.2,4.2 m0,-4.2 l-4.2,4.2 M270.3,447.3 l4.2,4.2 m0,-4.2 l-4.2,4.2 M271.5,461.5 l4.2,4.2 m0,-4.2 l-4.2,4.2 M235.3,541.3 l4.2,4.2 m0,-4.2 l-4.2,4.2 M259.3,518.3 l4.2,4.2 m0,-4.2 l-4.2,4.2 M268.5,522.5 l4.2,4.2 m0,-4.2 l-4.2,4.2 M261.3,556.3 l4.2,4.2 m0,-4.2 l-4.2,4.2 M246.2,570.1 l4.2,4.2 m0,-4.2 l-4.2,4.2 M262.4,569.3 l4.2,4.2 m0,-4.2 l-4.2,4.2 M265.5,570.1 l4.2,4.2 m0,-4.2 l-4.2,4.2 M273.8,573.2 l4.2,4.2 m0,-4.2 l-4.2,4.2 M264.4,581.1 l4.2,4.2 m0,-4.2 l-4.2,4.2 M237.1,609.1 l4.2,4.2 m0,-4.2 l-4.2,4.2 M243.1,609.5 l4.2,4.2 m0,-4.2 l-4.2,4.2 M234.4,616.4 l4.2,4.2 m0,-4.2 l-4.2,4.2 M244.3,625.3 l4.2,4.2 m0,-4.2 l-4.2,4.2 M243.3,639.2 l4.2,4.2 m0,-4.2 l-4.2,4.2 M241.2,647.5 l4.2,4.2 m0,-4.2 l-4.2,4.2 M240.2,676.5 l4.2,4.2 m0,-4.2 l-4.2,4.2 M238.1,682.3 l4.2,4.2 m0,-4.2 l-4.2,4.2 M225,689.4 l4.2,4.2 m0,-4.2 l-4.2,4.2 M232.3,695.6 l4.2,4.2 m0,-4.2 l-4.2,4.2 M222.9,697.3 l4.2,4.2 m0,-4.2 l-4.2,4.2 M226.1,706.6 l4.2,4.2 m0,-4.2 l-4.2,4.2 M295.6,603.3 l4.2,4.2 m0,-4.2 l-4.2,4.2 M293.5,624.2 l4.2,4.2 m0,-4.2 l-4.2,4.2 M303.2,620.5 l4.2,4.2 m0,-4.2 l-4.2,4.2 M307,627.8 l4.2,4.2 m0,-4.2 l-4.2,4.2 M308.4,637.1 l4.2,4.2 m0,-4.2 l-4.2,4.2 M305.3,639.2 l4.2,4.2 m0,-4.2 l-4.2,4.2 M301.2,644.4 l4.2,4.2 m0,-4.2 l-4.2,4.2 M298.3,649.6 l4.2,4.2 m0,-4.2 l-4.2,4.2 M299.7,654.3 l4.2,4.2 m0,-4.2 l-4.2,4.2 M291.4,657.2 l4.2,4.2 m0,-4.2 l-4.2,4.2 M274.4,639.6 l4.2,4.2 m0,-4.2 l-4.2,4.2 M276.3,655.8 l4.2,4.2 m0,-4.2 l-4.2,4.2 M287.3,667.6 l4.2,4.2 m0,-4.2 l-4.2,4.2 M286.2,674.5 l4.2,4.2 m0,-4.2 l-4.2,4.2 M284.1,679.2 l4.2,4.2 m0,-4.2 l-4.2,4.2 M277.5,684.2 l4.2,4.2 m0,-4.2 l-4.2,4.2 M283.1,686.3 l4.2,4.2 m0,-4.2 l-4.2,4.2 M282.1,694.2 l4.2,4.2 m0,-4.2 l-4.2,4.2 M279,700.4 l4.2,4.2 m0,-4.2 l-4.2,4.2 M280,708.7 l4.2,4.2 m0,-4.2 l-4.2,4.2 M338.2,555.3 l4.2,4.2 m0,-4.2 l-4.2,4.2 M341.2,571.3 l4.2,4.2 m0,-4.2 l-4.2,4.2 M340.2,581.1 l4.2,4.2 m0,-4.2 l-4.2,4.2 M314.2,598.3 l4.2,4.2 m0,-4.2 l-4.2,4.2 M311.1,600.8 l4.2,4.2 m0,-4.2 l-4.2,4.2 M316.3,575.3 l4.2,4.2 m0,-4.2 l-4.2,4.2 M313.2,580.1 l4.2,4.2 m0,-4.2 l-4.2,4.2 M321.9,407.5 l4.2,4.2 m0,-4.2 l-4.2,4.2 M359.3,433.9 l4.2,4.2 m0,-4.2 l-4.2,4.2 M328.3,440.3 l4.2,4.2 m0,-4.2 l-4.2,4.2 M337.3,445.9 l4.2,4.2 m0,-4.2 l-4.2,4.2 M331.3,449.3 l4.2,4.2 m0,-4.2 l-4.2,4.2 M344.3,469.3 l4.2,4.2 m0,-4.2 l-4.2,4.2 M335.3,470.3 l4.2,4.2 m0,-4.2 l-4.2,4.2 M346.3,495.9 l4.2,4.2 m0,-4.2 l-4.2,4.2 M371.3,495.1 l4.2,4.2 m0,-4.2 l-4.2,4.2 M320.3,499.3 l4.2,4.2 m0,-4.2 l-4.2,4.2 M343.3,504.3 l4.2,4.2 m0,-4.2 l-4.2,4.2 M334.3,507.9 l4.2,4.2 m0,-4.2 l-4.2,4.2 M319.3,520.3 l4.2,4.2 m0,-4.2 l-4.2,4.2 M364.5,522.3 l4.2,4.2 m0,-4.2 l-4.2,4.2 M332.3,527.3 l4.2,4.2 m0,-4.2 l-4.2,4.2 M326.3,528.9 l4.2,4.2 m0,-4.2 l-4.2,4.2 M317.5,529.9 l4.2,4.2 m0,-4.2 l-4.2,4.2 M353.9,529.9 l4.2,4.2 m0,-4.2 l-4.2,4.2 M376.2,555.4 l4.2,4.2 m0,-4.2 l-4.2,4.2 M401.3,426.3 l4.2,4.2 m0,-4.2 l-4.2,4.2 M416.3,435.3 l4.2,4.2 m0,-4.2 l-4.2,4.2 M413.3,475.3 l4.2,4.2 m0,-4.2 l-4.2,4.2 M405.3,477.9 l4.2,4.2 m0,-4.2 l-4.2,4.2 M407.9,508.3 l4.2,4.2 m0,-4.2 l-4.2,4.2 M416.9,510.9 l4.2,4.2 m0,-4.2 l-4.2,4.2 M429.5,562.9 l4.2,4.2 m0,-4.2 l-4.2,4.2 M402.3,604.3 l4.2,4.2 m0,-4.2 l-4.2,4.2 M368.3,613.9 l4.2,4.2 m0,-4.2 l-4.2,4.2 M370.3,617.4 l4.2,4.2 m0,-4.2 l-4.2,4.2 M431.3,616.3 l4.2,4.2 m0,-4.2 l-4.2,4.2 M410.3,634.3 l4.2,4.2 m0,-4.2 l-4.2,4.2 M390.9,651.3 l4.2,4.2 m0,-4.2 l-4.2,4.2 M404.3,656.3 l4.2,4.2 m0,-4.2 l-4.2,4.2 M380.3,659.3 l4.2,4.2 m0,-4.2 l-4.2,4.2 M392.3,660.3 l4.2,4.2 m0,-4.2 l-4.2,4.2 M399.3,665.3 l4.2,4.2 m0,-4.2 l-4.2,4.2 M387.3,667.3 l4.2,4.2 m0,-4.2 l-4.2,4.2 M419.3,672.3 l4.2,4.2 m0,-4.2 l-4.2,4.2 M377.3,677.3 l4.2,4.2 m0,-4.2 l-4.2,4.2 M389.3,677.3 l4.2,4.2 m0,-4.2 l-4.2,4.2 M420.3,687.3 l4.2,4.2 m0,-4.2 l-4.2,4.2 M393.3,705.3 l4.2,4.2 m0,-4.2 l-4.2,4.2 M428.3,704.3 l4.2,4.2 m0,-4.2 l-4.2,4.2 M361.3,565.3 l4.2,4.2 m0,-4.2 l-4.2,4.2 M347.3,596.3 l4.2,4.2 m0,-4.2 l-4.2,4.2 M352.9,596.3 l4.2,4.2 m0,-4.2 l-4.2,4.2 M362.3,643.3 l4.2,4.2 m0,-4.2 l-4.2,4.2 M350.3,656.3 l4.2,4.2 m0,-4.2 l-4.2,4.2 M348.9,663.3 l4.2,4.2 m0,-4.2 l-4.2,4.2" stroke="#f00" stroke-width="1.7" fill="none"/>
</g>
<path d="M211.5,712.5 v4.9 M311.5,712.5 v4.9 M410.5,712.5 v4.9" stroke="#000" stroke-width="1.1" fill="none"/>
<path d="M231.5,712.5 v2.8 M251.5,712.5 v2.8 M271.5,712.5 v2.8 M291.5,712.5 v2.8 M331.5,712.5 v2.8 M350.5,712.5 v2.8 M370.5,712.5 v2.8 M390.5,712.5 v2.8 M430.5,712.5 v2.8 M450.5,712.5 v2.8" stroke="#000" stroke-width="0.85" fill="none"/>
<path d="M200.5,709.5 h-4.9 M200.5,674.5 h-4.9 M200.5,638.5 h-4.9 M200.5,602.5 h-4.9 M200.5,567.5 h-4.9 M200.5,531.5 h-4.9 M200.5,495.5 h-4.9 M200.5,460.5 h-4.9 M200.5,424.5 h-4.9" stroke="#000" stroke-width="1.1" fill="none"/>
<path d="M200.5,709.5 h-2.8 M200.5,702.5 h-2.8 M200.5,695.5 h-2.8 M200.5,688.5 h-2.8 M200.5,681.5 h-2.8 M200.5,674.5 h-2.8 M200.5,666.5 h-2.8 M200.5,659.5 h-2.8 M200.5,652.5 h-2.8 M200.5,645.5 h-2.8 M200.5,638.5 h-2.8 M200.5,631.5 h-2.8 M200.5,624.5 h-2.8 M200.5,616.5 h-2.8 M200.5,609.5 h-2.8 M200.5,602.5 h-2.8 M200.5,595.5 h-2.8 M200.5,588.5 h-2.8 M200.5,581.5 h-2.8 M200.5,574.5 h-2.8 M200.5,567.5 h-2.8 M200.5,559.5 h-2.8 M200.5,552.5 h-2.8 M200.5,545.5 h-2.8 M200.5,538.5 h-2.8 M200.5,531.5 h-2.8 M200.5,524.5 h-2.8 M200.5,517.5 h-2.8 M200.5,509.5 h-2.8 M200.5,502.5 h-2.8 M200.5,495.5 h-2.8 M200.5,488.5 h-2.8 M200.5,481.5 h-2.8 M200.5,474.5 h-2.8 M200.5,467.5 h-2.8 M200.5,460.5 h-2.8 M200.5,452.5 h-2.8 M200.5,445.5 h-2.8 M200.5,438.5 h-2.8 M200.5,431.5 h-2.8 M200.5,424.5 h-2.8 M200.5,417.5 h-2.8 M200.5,410.5 h-2.8" stroke="#000" stroke-width="0.85" fill="none"/>
<rect x="200.5" y="409.5" width="261" height="303" fill="none" stroke="#000" stroke-width="1.1"/>
<text x="190.5" y="715.3" text-anchor="end">20</text>
<text x="190.5" y="679.64" text-anchor="end">25</text>
<text x="190.5" y="643.97" text-anchor="end">30</text>
<text x="190.5" y="608.31" text-anchor="end">35</text>
<text x="190.5" y="572.64" text-anchor="end">40</text>
<text x="190.5" y="536.98" text-anchor="end">45</text>
<text x="190.5" y="501.31" text-anchor="end">50</text>
<text x="190.5" y="465.65" text-anchor="end">55</text>
<text x="190.5" y="429.98" text-anchor="end">60</text>
<text x="211.25" y="733" text-anchor="middle">0</text>
<text x="309.8" y="733" text-anchor="middle">100</text>
<text x="410.35" y="733" text-anchor="middle">200</text>
<text x="329.72" y="754.7" text-anchor="middle" textLength="70.5" lengthAdjust="spacingAndGlyphs">R (arcsec)</text>
<text transform="translate(164.5,560) rotate(-90)" text-anchor="middle" textLength="48" lengthAdjust="spacingAndGlyphs">d<tspan font-style="italic">μ</tspan>/dR</text>
<rect x="526.5" y="409.5" width="261" height="303" fill="#fff"/>
<rect x="526.5" y="409.5" width="78.6" height="303" fill="#f00" fill-opacity="0.2"/>
<rect x="706.9" y="409.5" width="80.6" height="303" fill="#f00" fill-opacity="0.2"/>
<path d="M604.5,409.5 V712.5 M707.5,409.5 V712.5" stroke="#f00" stroke-opacity="0.2" stroke-width="0.7" fill="none"/>
<g clip-path="url(#c11)">
<path d="M560,712.15 V408.55" stroke="#30cb30" stroke-width="2.05" stroke-dasharray="7.71 3.33" fill="none"/>
<path d="M679,712.15 V408.55" stroke="#30cb30" stroke-width="2.05" stroke-dasharray="7.71 3.33" fill="none"/>
<path d="M635,712.15 V408.55" stroke="#e7ba00" stroke-width="2.05" stroke-dasharray="7.71 3.33" fill="none"/>
<path d="M668,712.15 V408.55" stroke="#e7ba00" stroke-width="2.05" stroke-dasharray="7.71 3.33" fill="none"/>
<path d="M595,712.15 V408.55" stroke="#1e90ff" stroke-width="2.05" stroke-dasharray="2.08 3.44" fill="none"/>
<path d="M634,712.15 V408.55" stroke="#1e90ff" stroke-width="2.05" stroke-dasharray="2.08 3.44" fill="none"/>
<path d="M539,423 L538.6,440 L539.2,428 L538.8,452 L539.5,432 L539.2,454 L540,436 L539.8,470 L540.3,490 L540.8,510 L541.5,525 L542.3,535 L543,540 L543.5,528 L544,520 L544.5,505 L545,512 L546,498 L546.5,515 L547,520 L547.5,500 L548,470 L548.5,445 L549,436 L549.5,452 L550,438 L550.5,455 L551,458 L551.5,440 L552.4,427 L552.8,445 L553.2,460 L554,494 L556,524 L556.8,540 L560,599.5 L561,625 L562.1,650.4 L564.2,684.4 L565.3,698.2 L566.3,688.6 L567,625 L568.5,605.8 L570.6,554.9 L571,540 L572,524 L573,488 L574,500 L574.5,485 L576,482 L575,504 L576,510 L576.5,540 L578,574 L579.1,625 L581,615 L582.5,608 L584,618 L586.5,623 L586.1,603.7 L587.1,561.2 L588,534 L590,519 L593,517 L595,522 L596,540 L596,560.1 L598.1,537.8 L602.4,553.8 L604.9,577.1 L606.2,567.6 L610.9,570.8 L612.6,576.1 L615.1,567.6 L619.4,560.1 L622.6,536.8 L624.7,525.1 L627.9,527.2 L630,516.6 L632.6,516.6 L634.3,533.6 L639.6,534.6 L643.8,541 L645.9,575 L648.1,578.2 L650.2,589.9 L653,599.5 L655.5,593.1 L658.1,593.1 L659.8,583.5 L662.3,582.5 L664.4,570.8 L667.2,569.7 L669.3,549.5 L672.9,539.3 L675.1,547.4 L678.9,549.5 L681.4,552.7 L683.6,566.5 L690.6,566.9 L692.7,549.5 L695.9,531.4 L698.4,541 L702.3,539.3 L706.5,548.4 L709.7,562.3 L712.9,562.3 L715.4,547.4 L719.7,544.2 L723.1,507 L724.6,517.6 L726.7,537.8 L728.8,524 L731,517.2 L734.2,549.5 L742.7,550.6 L746.9,556.3 L750.1,548.4 L755.4,545.7 L759.2,505.9 L761.8,515.5 L764.3,525.1 L766,560.1 L768.6,603.7 L772.4,562.3 L782.6,562.3 L785.2,600.5 L786.9,630.3 L787.5,640" stroke="#000" stroke-width="2.08" stroke-dasharray="7.71 3.33" fill="none" stroke-linejoin="round" />
<path d="M538.7,423 L539.6,427 L538.5,431 L539.8,435 L538.6,439 L539.9,443 L538.8,447 L540,451 L539.2,455 L540.3,462 L539.7,470 L540.6,480 L540.2,490 L541.2,500 L540.9,510 L542,520 L541.8,530 L543,540" stroke="#000" stroke-width="1.7" fill="none" stroke-linejoin="round" stroke-linecap="round"/>
<path d="M543.6,530 L544.8,512 L544.2,520 L545.6,500 L545.2,516 L546.4,497 L546,514 L547.2,503 L546.8,521 L547.8,498" stroke="#000" stroke-width="1.7" fill="none" stroke-linejoin="round" stroke-linecap="round"/>
<path d="M548.6,450 L549.4,434 L549,456 L550.2,436 L549.8,458 L551,440 L550.6,460 L551.8,432 L551.4,452 L552.5,427 L552.3,448 L553.2,462" stroke="#000" stroke-width="1.7" fill="none" stroke-linejoin="round" stroke-linecap="round"/>
<path d="M572.8,505 L573.6,487 L573.2,508 L574.4,486 L574,510 L575.2,484 L574.8,506 L576,482 L575.6,504 L576.4,512" stroke="#000" stroke-width="1.7" fill="none" stroke-linejoin="round" stroke-linecap="round"/>
</g>
<path d="M537.5,712.5 v4.9 M637.5,712.5 v4.9 M736.5,712.5 v4.9" stroke="#000" stroke-width="1.1" fill="none"/>
<path d="M557.5,712.5 v2.8 M577.5,712.5 v2.8 M597.5,712.5 v2.8 M617.5,712.5 v2.8 M657.5,712.5 v2.8 M677.5,712.5 v2.8 M697.5,712.5 v2.8 M717.5,712.5 v2.8 M756.5,712.5 v2.8 M776.5,712.5 v2.8" stroke="#000" stroke-width="0.85" fill="none"/>
<path d="M526.5,676.5 h-4.9 M526.5,633.5 h-4.9 M526.5,591.5 h-4.9 M526.5,548.5 h-4.9 M526.5,505.5 h-4.9 M526.5,463.5 h-4.9 M526.5,420.5 h-4.9" stroke="#000" stroke-width="1.1" fill="none"/>
<path d="M526.5,710.5 h-2.8 M526.5,701.5 h-2.8 M526.5,693.5 h-2.8 M526.5,684.5 h-2.8 M526.5,676.5 h-2.8 M526.5,667.5 h-2.8 M526.5,659.5 h-2.8 M526.5,650.5 h-2.8 M526.5,642.5 h-2.8 M526.5,633.5 h-2.8 M526.5,625.5 h-2.8 M526.5,616.5 h-2.8 M526.5,608.5 h-2.8 M526.5,599.5 h-2.8 M526.5,591.5 h-2.8 M526.5,582.5 h-2.8 M526.5,573.5 h-2.8 M526.5,565.5 h-2.8 M526.5,556.5 h-2.8 M526.5,548.5 h-2.8 M526.5,539.5 h-2.8 M526.5,531.5 h-2.8 M526.5,522.5 h-2.8 M526.5,514.5 h-2.8 M526.5,505.5 h-2.8 M526.5,497.5 h-2.8 M526.5,488.5 h-2.8 M526.5,480.5 h-2.8 M526.5,471.5 h-2.8 M526.5,463.5 h-2.8 M526.5,454.5 h-2.8 M526.5,446.5 h-2.8 M526.5,437.5 h-2.8 M526.5,428.5 h-2.8 M526.5,420.5 h-2.8 M526.5,411.5 h-2.8" stroke="#000" stroke-width="0.85" fill="none"/>
<rect x="526.5" y="409.5" width="261" height="303" fill="none" stroke="#000" stroke-width="1.1"/>
<text x="516.81" y="682" text-anchor="end">0.65</text>
<text x="516.81" y="639.33" text-anchor="end">0.70</text>
<text x="516.81" y="596.67" text-anchor="end">0.75</text>
<text x="516.81" y="554" text-anchor="end">0.80</text>
<text x="516.81" y="511.34" text-anchor="end">0.85</text>
<text x="516.81" y="468.67" text-anchor="end">0.90</text>
<text x="516.81" y="426.01" text-anchor="end">0.95</text>
<text x="537.56" y="733" text-anchor="middle">0</text>
<text x="636.11" y="733" text-anchor="middle">100</text>
<text x="736.66" y="733" text-anchor="middle">200</text>
<text x="656.04" y="754.7" text-anchor="middle" textLength="70.5" lengthAdjust="spacingAndGlyphs">R (arcsec)</text>
<text transform="translate(478.8,560) rotate(-90)" text-anchor="middle" textLength="81" lengthAdjust="spacingAndGlyphs"><tspan font-style="italic">b/a</tspan>, on sky</text>
<rect x="853.5" y="409.5" width="261" height="303" fill="#fff"/>
<rect x="853.5" y="409.5" width="77.6" height="303" fill="#f00" fill-opacity="0.2"/>
<rect x="1032.9" y="409.5" width="81.6" height="303" fill="#f00" fill-opacity="0.2"/>
<path d="M930.5,409.5 V712.5 M1033.5,409.5 V712.5" stroke="#f00" stroke-opacity="0.2" stroke-width="0.7" fill="none"/>
<g clip-path="url(#c21)">
<path d="M887,712.15 V408.55" stroke="#30cb30" stroke-width="2.05" stroke-dasharray="7.71 3.33" fill="none"/>
<path d="M1006,712.15 V408.55" stroke="#30cb30" stroke-width="2.05" stroke-dasharray="7.71 3.33" fill="none"/>
<path d="M962,712.15 V408.55" stroke="#e7ba00" stroke-width="2.05" stroke-dasharray="7.71 3.33" fill="none"/>
<path d="M994,712.15 V408.55" stroke="#e7ba00" stroke-width="2.05" stroke-dasharray="7.71 3.33" fill="none"/>
<path d="M922,712.15 V408.55" stroke="#1e90ff" stroke-width="2.05" stroke-dasharray="2.08 3.44" fill="none"/>
<path d="M960,712.15 V408.55" stroke="#1e90ff" stroke-width="2.05" stroke-dasharray="2.08 3.44" fill="none"/>
<path d="M865.4,614 L865.28,611.6 L865.92,602 L865.55,599.6 L866.18,590 L865.82,587.6 L866.45,578 L866.08,575.6 L866.72,566 L866.6,563.6 L865.78,557.93 L867.66,549.85 L865.95,547.78 L867.83,539.71 L866.11,537.64 L867.99,529.56 L866.27,527.49 L868.15,519.42 L866.44,517.35 L868.32,509.27 L866.6,507.2 L868.48,499.13 L866.76,497.05 L868.65,488.98 L866.93,486.91 L868.81,478.84 L867.09,476.76 L868.97,468.69 L867.25,466.62 L869.14,458.55 L867.42,456.47 L868.4,448.4 L867.55,456.56 L869.41,458.73 L867.66,466.89 L869.52,469.05 L867.77,477.22 L869.63,479.38 L867.88,487.55 L869.74,489.71 L867.99,497.87 L869.85,500.04 L868.1,508.2 L869.95,510.36 L868.21,518.53 L870.06,520.69 L868.32,528.85 L870.17,531.02 L868.43,539.18 L870.28,541.35 L868.54,549.51 L870.39,551.67 L868.65,559.84 L869.6,562 L869.35,559.83 L870.6,551.67 L869.85,549.5 L871.1,541.33 L870.35,539.17 L871.6,531 L870.85,528.83 L872.1,520.67 L871.35,518.5 L872.6,510.33 L871.85,508.17 L872.6,500 L873.6,482 L872.76,490.2 L874.92,492.4 L873.08,500.6 L875.24,502.8 L873.4,511 L875.56,513.2 L873.72,521.4 L875.88,523.6 L874.04,531.8 L876.2,534 L874.36,542.2 L876.52,544.4 L874.68,552.6 L876.84,554.8 L876,563 L875.8,569.99 L876.8,572.78 L876.2,582.77 L877.2,585.56 L876.6,595.55 L877.6,598.35 L877,608.34 L878,611.13 L877.4,621.12 L878.4,623.91 L878.2,633.9 L878.08,627.87 L879.16,618.24 L878.64,615.81 L879.72,606.18 L879.2,603.75 L880.28,594.12 L879.76,591.69 L880.84,582.06 L880.32,579.63 L881,570 L880.27,568.15 L882.23,561.5 L880.6,559.65 L882.57,553 L880.93,551.15 L882.9,544.5 L881.27,542.65 L883.23,536 L881.6,534.15 L883.57,527.5 L881.93,525.65 L883,519 L882.23,525.65 L884.16,527.5 L882.49,534.15 L884.42,536 L882.75,542.65 L884.68,544.5 L883.01,551.15 L884.94,553 L883.27,559.65 L884.3,561.5" stroke="#000" stroke-width="2.5" stroke-dasharray="5.5 1.4" fill="none" stroke-linejoin="round" />
<path d="M884.3,561.5 L886.4,604.5 L888.6,617.4 L889.6,647.5 L890.7,679.8 L891.8,698 L892.8,690 L893.9,669 L894,564 L895,524 L897,520 L898,480 L899,459 L901.6,459 L902,490 L905,491 L905.6,564 L906.8,602.4 L909,636.8 L910,561.5 L911,540 L912,556 L913,564 L913.5,520 L914.4,470 L915.4,460 L916,472 L918,494 L921,516 L922.4,524 L924.4,522 L925,540 L926.2,561.5 L928.3,564.7 L929.1,563.4 L932.25,522.75 L935.4,494.6 L938.5,477.4 L941,475.9 L944.75,455.6 L949.4,431.5 L952.6,447.75 L957.25,450.9 L960.4,457.1 L963.5,447.75 L966.6,432.75 L968.2,452.4 L971.3,455.6 L974.4,482.1 L977.6,497.75 L980.7,513.4 L986.9,519.6 L991.6,518.1 L993.2,482.1 L994.1,452.4 L997.9,450.9 L1000.4,425.25 L1002.6,444.6 L1007.9,444.6 L1011,455.6 L1014.1,489 L1016.6,446.2 L1021.3,444.6 L1027.6,435.25 L1029.75,425.9 L1032.9,450.9 L1036.9,450.9 L1040.1,422.75 L1043.2,429 L1046.3,450.9 L1051,450.9 L1054.1,435.25 L1057.9,479 L1061.9,478.4 L1066,497.75 L1069.75,429 L1071.3,466.5 L1073.5,532.1 L1078.2,549.3 L1082.25,474.3 L1085.4,529 L1088.5,560.25 L1091.6,597.75 L1095.7,633.7 L1099.4,628.4 L1113.5,628.4" stroke="#000" stroke-width="2.08" stroke-dasharray="7.71 3.33" fill="none" stroke-linejoin="round" />
</g>
<path d="M864.5,712.5 v4.9 M963.5,712.5 v4.9 M1063.5,712.5 v4.9" stroke="#000" stroke-width="1.1" fill="none"/>
<path d="M884.5,712.5 v2.8 M903.5,712.5 v2.8 M923.5,712.5 v2.8 M943.5,712.5 v2.8 M983.5,712.5 v2.8 M1003.5,712.5 v2.8 M1023.5,712.5 v2.8 M1043.5,712.5 v2.8 M1083.5,712.5 v2.8 M1103.5,712.5 v2.8" stroke="#000" stroke-width="0.85" fill="none"/>
<path d="M853.5,687.5 h-4.9 M853.5,634.5 h-4.9 M853.5,581.5 h-4.9 M853.5,528.5 h-4.9 M853.5,475.5 h-4.9 M853.5,422.5 h-4.9" stroke="#000" stroke-width="1.1" fill="none"/>
<path d="M853.5,708.5 h-2.8 M853.5,698.5 h-2.8 M853.5,687.5 h-2.8 M853.5,676.5 h-2.8 M853.5,666.5 h-2.8 M853.5,655.5 h-2.8 M853.5,645.5 h-2.8 M853.5,634.5 h-2.8 M853.5,623.5 h-2.8 M853.5,613.5 h-2.8 M853.5,602.5 h-2.8 M853.5,592.5 h-2.8 M853.5,581.5 h-2.8 M853.5,570.5 h-2.8 M853.5,560.5 h-2.8 M853.5,549.5 h-2.8 M853.5,539.5 h-2.8 M853.5,528.5 h-2.8 M853.5,517.5 h-2.8 M853.5,507.5 h-2.8 M853.5,496.5 h-2.8 M853.5,486.5 h-2.8 M853.5,475.5 h-2.8 M853.5,464.5 h-2.8 M853.5,454.5 h-2.8 M853.5,443.5 h-2.8 M853.5,433.5 h-2.8 M853.5,422.5 h-2.8 M853.5,411.5 h-2.8" stroke="#000" stroke-width="0.85" fill="none"/>
<rect x="853.5" y="409.5" width="261" height="303" fill="none" stroke="#000" stroke-width="1.1"/>
<text x="843.12" y="693" text-anchor="end">0.75</text>
<text x="843.12" y="640" text-anchor="end">0.80</text>
<text x="843.12" y="587" text-anchor="end">0.85</text>
<text x="843.12" y="534" text-anchor="end">0.90</text>
<text x="843.12" y="481" text-anchor="end">0.95</text>
<text x="843.12" y="428" text-anchor="end">1.00</text>
<text x="863.88" y="733" text-anchor="middle">0</text>
<text x="962.42" y="733" text-anchor="middle">100</text>
<text x="1062.98" y="733" text-anchor="middle">200</text>
<text x="982.35" y="754.7" text-anchor="middle" textLength="70.5" lengthAdjust="spacingAndGlyphs">R (arcsec)</text>
<text transform="translate(804.5,560.2) rotate(-90)" text-anchor="middle" textLength="115.5" lengthAdjust="spacingAndGlyphs"><tspan font-style="italic">b/a</tspan>, deprojected</text>
<rect x="1179.5" y="409.5" width="261" height="303" fill="#fff"/>
<rect x="1179.5" y="409.5" width="78.6" height="303" fill="#f00" fill-opacity="0.2"/>
<rect x="1358.9" y="409.5" width="81.6" height="303" fill="#f00" fill-opacity="0.2"/>
<path d="M1257.5,409.5 V712.5 M1359.5,409.5 V712.5" stroke="#f00" stroke-opacity="0.2" stroke-width="0.7" fill="none"/>
<g clip-path="url(#c31)">
<path d="M1213,712.15 V408.55" stroke="#30cb30" stroke-width="2.05" stroke-dasharray="7.71 3.33" fill="none"/>
<path d="M1332,712.15 V408.55" stroke="#30cb30" stroke-width="2.05" stroke-dasharray="7.71 3.33" fill="none"/>
<path d="M1288,712.15 V408.55" stroke="#e7ba00" stroke-width="2.05" stroke-dasharray="7.71 3.33" fill="none"/>
<path d="M1321,712.15 V408.55" stroke="#e7ba00" stroke-width="2.05" stroke-dasharray="7.71 3.33" fill="none"/>
<path d="M1248,712.15 V408.55" stroke="#1e90ff" stroke-width="2.05" stroke-dasharray="2.08 3.44" fill="none"/>
<path d="M1286,712.15 V408.55" stroke="#1e90ff" stroke-width="2.05" stroke-dasharray="2.08 3.44" fill="none"/>
<path d="M1190.6,709.5 L1191.9,704.5 L1194.4,705.75 L1196.9,698.25 L1198.75,705.1 L1201.25,702 L1203.75,702.6 L1205,697.6 L1207.5,705.1 L1208.1,697 L1209.4,689.5 L1210,680.75 L1213.75,679.5 L1216.25,673.9 L1217.5,682 L1218.75,692 L1220.6,698.25 L1223.1,702 L1226.9,707 L1230,705.1 L1232.5,705.1 L1234.4,700.1 L1236.9,699.5 L1238.75,705.1 L1240.6,708.25 L1243.1,702 L1245.6,697 L1248.1,689.5 L1250,682 L1252.5,675.75 L1255.6,678.25 L1258.1,676.4 L1259.4,684.5 L1261.9,690.1 L1265,692 L1267.5,697 L1270,700.75 L1273.1,705.1 L1276.25,710.75 L1278.75,700.75 L1283.75,698.9 L1286.25,699.5 L1288.1,705.75 L1290.6,702.6 L1292.5,707.6 L1294.4,700.75 L1296.9,697 L1298.75,693.25 L1300.6,685.75 L1303.75,678.25 L1306.25,677 L1308.1,679.5 L1310.6,671.4 L1312.5,677 L1314.4,687 L1316.9,682 L1318.75,692 L1321.25,699.5 L1325,703.9 L1328.75,701.4 L1331.25,698.25 L1332.5,685.75 L1334.4,680.75 L1336.25,684.5 L1340,683.9 L1342.5,687 L1343.1,700.75 L1345,689.5 L1346.9,698.25 L1349.4,700.75 L1352.5,692 L1353.75,699.5 L1355.6,707 L1358.1,700.75" stroke="#000" stroke-width="2.4" stroke-dasharray="6.5 1.9" fill="none" stroke-linejoin="round" />
<path d="M1358.1,700.75 L1359.4,688.25 L1362.5,682 L1366.25,679.5 L1367.5,674.5 L1368.75,698.25 L1370.6,687 L1371.9,673.25 L1373.1,697 L1374.4,670.1 L1376.9,685.75 L1379.4,667 L1380.5,650 L1381.6,635 L1382.8,590 L1383.8,630 L1384.8,595 L1385.8,632 L1386.8,600 L1387.8,633 L1388.8,610 L1390,611 L1391,580 L1392.4,552.4 L1393.5,600 L1394.5,570 L1395.5,620 L1397.2,648.4 L1398.4,560 L1399.4,590 L1400.4,530.8 L1401.4,585 L1402.4,540 L1403.2,592 L1404.4,640 L1405.4,672 L1406.4,642 L1407.4,676 L1408.4,645 L1409.4,670 L1410.4,696.4 L1411.6,580 L1412,640 L1414,649.6 L1415,640 L1416.4,664 L1418.8,672.4 L1420.5,664 L1421.5,560 L1422,475.2 L1423,500 L1424,480 L1425.3,522 L1426.3,490 L1427.3,497.6 L1427.6,400" stroke="#000" stroke-width="2.08" stroke-dasharray="7.71 3.33" fill="none" stroke-linejoin="round" />
</g>
<path d="M1190.5,712.5 v4.9 M1290.5,712.5 v4.9 M1389.5,712.5 v4.9" stroke="#000" stroke-width="1.1" fill="none"/>
<path d="M1210.5,712.5 v2.8 M1230.5,712.5 v2.8 M1250.5,712.5 v2.8 M1270.5,712.5 v2.8 M1309.5,712.5 v2.8 M1329.5,712.5 v2.8 M1349.5,712.5 v2.8 M1369.5,712.5 v2.8 M1409.5,712.5 v2.8 M1429.5,712.5 v2.8" stroke="#000" stroke-width="0.85" fill="none"/>
<path d="M1179.5,712.5 h-4.9 M1179.5,663.5 h-4.9 M1179.5,614.5 h-4.9 M1179.5,566.5 h-4.9 M1179.5,517.5 h-4.9 M1179.5,469.5 h-4.9 M1179.5,420.5 h-4.9" stroke="#000" stroke-width="1.1" fill="none"/>
<path d="M1179.5,712.5 h-2.8 M1179.5,699.5 h-2.8 M1179.5,687.5 h-2.8 M1179.5,675.5 h-2.8 M1179.5,663.5 h-2.8 M1179.5,651.5 h-2.8 M1179.5,639.5 h-2.8 M1179.5,627.5 h-2.8 M1179.5,614.5 h-2.8 M1179.5,602.5 h-2.8 M1179.5,590.5 h-2.8 M1179.5,578.5 h-2.8 M1179.5,566.5 h-2.8 M1179.5,554.5 h-2.8 M1179.5,542.5 h-2.8 M1179.5,529.5 h-2.8 M1179.5,517.5 h-2.8 M1179.5,505.5 h-2.8 M1179.5,493.5 h-2.8 M1179.5,481.5 h-2.8 M1179.5,469.5 h-2.8 M1179.5,457.5 h-2.8 M1179.5,444.5 h-2.8 M1179.5,432.5 h-2.8 M1179.5,420.5 h-2.8" stroke="#000" stroke-width="0.85" fill="none"/>
<rect x="1179.5" y="409.5" width="261" height="303" fill="none" stroke="#000" stroke-width="1.1"/>
<text x="1169.44" y="717.6" text-anchor="end">0.0</text>
<text x="1169.44" y="669.05" text-anchor="end">0.2</text>
<text x="1169.44" y="620.5" text-anchor="end">0.4</text>
<text x="1169.44" y="571.94" text-anchor="end">0.6</text>
<text x="1169.44" y="523.39" text-anchor="end">0.8</text>
<text x="1169.44" y="474.84" text-anchor="end">1.0</text>
<text x="1169.44" y="426.29" text-anchor="end">1.2</text>
<text x="1190.19" y="733" text-anchor="middle">0</text>
<text x="1288.74" y="733" text-anchor="middle">100</text>
<text x="1389.29" y="733" text-anchor="middle">200</text>
<text x="1308.66" y="754.7" text-anchor="middle" textLength="70.5" lengthAdjust="spacingAndGlyphs">R (arcsec)</text>
<text transform="translate(1138.8,560.4) rotate(-90)" text-anchor="middle" textLength="48.5" lengthAdjust="spacingAndGlyphs">A2/A0</text>
</svg></body></html>
